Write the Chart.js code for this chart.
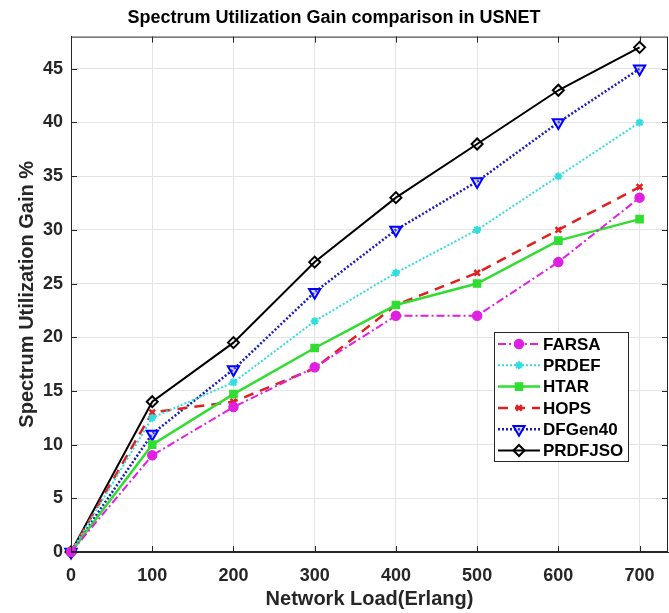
<!DOCTYPE html>
<html>
<head>
<meta charset="utf-8">
<script src="https://cdn.jsdelivr.net/npm/chart.js@4.4.1/dist/chart.umd.min.js"></script>
<style>
    html, body { margin: 0; padding: 0; background: #fff; }
    #wrap { width: 669px; height: 613px; }
</style>
</head>
<body>
<div id="wrap"><canvas id="suChart" width="669" height="613"></canvas></div>
<script>
// 資料
let loads = [0, 100, 200, 300, 400, 500, 600, 700]
let FARSA = [0, 9, 13.5, 17.2, 22, 22, 27, 33]
let PRDEF = [0, 12.5, 15.8, 21.5, 26, 30, 35, 40]
let HTAR = [0, 10, 14.7, 19, 23, 25, 29, 31]
let HOPS = [0, 13, 14, 17.1, 23, 26, 30, 34]
let DFGen40 = [0, 11, 17, 24.2, 30, 34.5, 40, 45]
let PRDFJSO = [0, 14, 19.5, 27, 33, 38, 43, 47]
let xTicks = [0, 100, 200, 300, 400, 500, 600, 700]
let yTicks = [0, 5, 10, 15, 20, 25, 30, 35, 40, 45]

const axisColor = '#262626'
const fontFam = '"Liberation Sans", Arial, Helvetica, sans-serif'

function toPoints(arr) {
    return arr.map((v, i) => ({ x: loads[i], y: v }))
}

function makeSet(label, data, color, dash, width, style, radius, extra) {
    return Object.assign({
        label: label,
        data: toPoints(data),
        borderColor: color,
        backgroundColor: color,
        borderWidth: width,
        borderDash: dash,
        pointStyle: style,
        pointRadius: radius,
        pointBorderColor: color,
        pointBackgroundColor: color,
        pointBorderWidth: 1.5,
        tension: 0,
        clip: false
    }, extra || {})
}

var datasets = [
    makeSet('FARSA', FARSA, '#e020e0', [8, 3, 2, 3], 2, 'circle', 4.5),
    makeSet('PRDEF', PRDEF, '#30dede', [2, 2], 2, 'star', 4, { pointBorderWidth: 2 }),
    makeSet('HTAR', HTAR, '#30dd30', [], 2.5, 'rect', 5),
    makeSet('HOPS', HOPS, '#e02020', [10, 7], 2.5, 'crossRot', 4, { pointBorderWidth: 2.5 }),
    makeSet('DFGen40', DFGen40, '#1a1ac0', [2, 2], 2.5, 'triangle', 6.5,
        { pointRotation: 180, pointBorderColor: '#0000ff', pointBackgroundColor: 'rgba(140,140,255,0.35)', pointBorderWidth: 2 }),
    makeSet('PRDFJSO', PRDFJSO, '#000000', [], 2, 'rectRot', 5.5,
        { pointBackgroundColor: 'rgba(255,255,255,0)', pointBorderWidth: 2 })
]

// 外框 + 內側刻度 (MATLAB box on)
const boxPlugin = {
    id: 'boxPlugin',
    afterDatasetsDraw(chart) {
        const ctx = chart.ctx
        const a = chart.chartArea
        const xs = chart.scales.x
        const ys = chart.scales.y
        ctx.save()
        ctx.strokeStyle = axisColor
        ctx.lineWidth = 1
        ctx.strokeRect(a.left + 0.5, a.top + 0.5, a.right - a.left - 1, a.bottom - a.top - 1)
        ctx.beginPath()
        xTicks.forEach(t => {
            const px = Math.round(xs.getPixelForValue(t)) + 0.5
            ctx.moveTo(px, a.bottom); ctx.lineTo(px, a.bottom - 6)
            ctx.moveTo(px, a.top); ctx.lineTo(px, a.top + 6)
        })
        yTicks.forEach(t => {
            const py = Math.round(ys.getPixelForValue(t)) + 0.5
            ctx.moveTo(a.left, py); ctx.lineTo(a.left + 6, py)
            ctx.moveTo(a.right, py); ctx.lineTo(a.right - 6, py)
        })
        ctx.stroke()
        ctx.restore()
    }
}

// 圖例 (畫在圖內右下)
const legendPlugin = {
    id: 'legendPlugin',
    afterDraw(chart) {
        const ctx = chart.ctx
        const bx = 494, by = 332, bw = 134, bh = 129
        const rowH = 21.3
        ctx.save()
        ctx.fillStyle = '#ffffff'
        ctx.fillRect(bx, by, bw, bh)
        ctx.strokeStyle = axisColor
        ctx.lineWidth = 1
        ctx.strokeRect(bx + 0.5, by + 0.5, bw, bh)
        chart.data.datasets.forEach((ds, i) => {
            const y = by + 12 + i * rowH
            ctx.beginPath()
            ctx.setLineDash(ds.borderDash || [])
            ctx.strokeStyle = ds.borderColor
            ctx.lineWidth = ds.borderWidth
            ctx.moveTo(bx + 4, y)
            ctx.lineTo(bx + 46, y)
            ctx.stroke()
            ctx.setLineDash([])
            ctx.fillStyle = ds.pointBackgroundColor
            ctx.strokeStyle = ds.pointBorderColor
            ctx.lineWidth = ds.pointBorderWidth
            Chart.helpers.drawPoint(ctx, {
                pointStyle: ds.pointStyle,
                radius: ds.pointRadius,
                rotation: ds.pointRotation || 0,
                borderWidth: ds.pointBorderWidth
            }, bx + 25, y)
            ctx.fillStyle = '#000000'
            ctx.font = 'bold 17px ' + fontFam
            ctx.textBaseline = 'middle'
            ctx.textAlign = 'left'
            ctx.fillText(ds.label, bx + 49, y + 1)
        })
        ctx.restore()
    }
}

var ctx = document.getElementById('suChart').getContext('2d')
var suChart = new Chart(ctx, {
    type: 'line',
    data: { datasets: datasets },
    options: {
        responsive: false,
        animation: false,
        layout: { autoPadding: false, padding: { left: 0, right: 1, top: 0, bottom: 0 } },
        plugins: {
            legend: { display: false },
            tooltip: { enabled: false },
            title: {
                display: true,
                text: 'Spectrum Utilization Gain comparison in USNET',
                color: '#000000',
                font: { family: fontFam, size: 18, weight: 'bold' },
                padding: { top: 7, bottom: 8 }
            }
        },
        scales: {
            x: {
                type: 'linear',
                min: 0,
                max: 735,
                afterBuildTicks: s => { s.ticks = xTicks.map(v => ({ value: v })) },
                afterFit: s => { s.height = 61 },
                grid: { color: '#e4e4e4', drawTicks: false },
                border: { color: axisColor, width: 1 },
                ticks: {
                    color: axisColor,
                    padding: 13,
                    maxRotation: 0,
                    font: { family: fontFam, size: 18, weight: 'bold' }
                },
                title: {
                    display: true,
                    text: 'Network Load(Erlang)',
                    color: axisColor,
                    font: { family: fontFam, size: 20, weight: 'bold' },
                    padding: { top: 0, bottom: 2 }
                }
            },
            y: {
                type: 'linear',
                min: 0,
                max: 48,
                afterBuildTicks: s => { s.ticks = yTicks.map(v => ({ value: v })) },
                afterFit: s => { s.width = 71 },
                grid: { color: '#e4e4e4', drawTicks: false },
                border: { color: axisColor, width: 1 },
                ticks: {
                    color: axisColor,
                    padding: 8,
                    font: { family: fontFam, size: 18, weight: 'bold' }
                },
                title: {
                    display: true,
                    text: 'Spectrum Utilization Gain %',
                    color: axisColor,
                    font: { family: fontFam, size: 20, weight: 'bold' },
                    padding: { top: 15, bottom: 0 }
                }
            }
        }
    },
    plugins: [boxPlugin, legendPlugin]
})
</script>
</body>
</html>
